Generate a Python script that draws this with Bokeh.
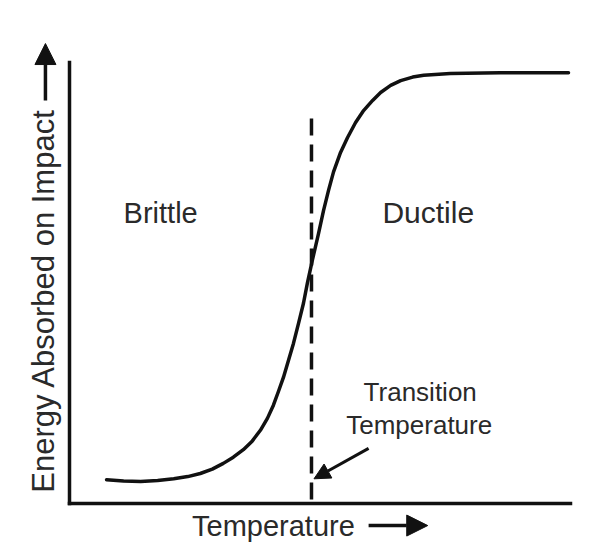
from bokeh.plotting import figure
from bokeh.models import Range1d, Label, Arrow, NormalHead, FixedTicker
from bokeh.embed import file_html
from bokeh.resources import INLINE

# Curve (temperature in arbitrary units 0-100, energy 0-100)
temperature = [7.4, 10.8, 14.2, 17.6, 20.8, 23.6, 26.1, 28.5, 30.7, 32.7, 34.7,
               36.5, 38.1, 39.5, 40.7, 41.7, 42.7, 43.7, 44.7, 45.7, 46.7, 47.5,
               48.5, 49.7, 50.7, 51.7, 52.7, 54.1, 55.5, 57.1, 58.7, 60.5, 62.1,
               64.1, 66.1, 68.5, 70.7, 76.0, 86.0, 99.6]
energy = [5.4, 5.1, 5.0, 5.2, 5.6, 6.1, 6.8, 7.8, 9.1, 10.5, 12.2,
          14.2, 16.6, 19.3, 22.3, 25.4, 28.6, 32.4, 36.3, 40.8, 45.4, 50.1,
          55.3, 61.2, 66.4, 71.0, 75.2, 79.6, 83.0, 86.4, 89.1, 91.4, 93.2,
          94.8, 95.9, 96.7, 97.1, 97.5, 97.7, 97.7]

transition_temp = 48.3
transition_top = 87.3

region_labels = ["Brittle", "Ductile"]
transition_label = ["Transition", "Temperature"]
x_label = "Temperature"
y_label = "Energy Absorbed on Impact"

FONT = "Liberation Sans"
TXT = "#2a2a2a"
INK = "#111111"

p = figure(width=584, height=543, output_backend="svg", toolbar_location=None, title=None,
           x_range=Range1d(-13.77, 102.79), y_range=Range1d(-9.07, 114.06),
           min_border=0)
p.outline_line_color = None
p.grid.visible = False
p.background_fill_color = "white"
p.border_fill_color = "white"
for ax in (p.xaxis, p.yaxis):
    ax.ticker = FixedTicker(ticks=[])
    ax.fixed_location = 0
    ax.bounds = (0, 100)
    ax.axis_line_width = 3.5
    ax.axis_line_color = INK
    ax.major_tick_line_color = None
    ax.minor_tick_line_color = None
    ax.major_tick_out = 0
    ax.major_tick_in = 0
    ax.major_label_text_font_size = "0px"
    ax.axis_line_cap = "square"

# main curve
p.line(temperature, energy, line_width=3.5, line_color=INK, line_join="round", line_cap="round")

# dashed transition line
p.line([transition_temp, transition_temp], [transition_top, 0], line_width=3.5,
       line_color=INK, line_dash="17 9")

def lab(x, y, text, size, angle=0, align="center"):
    p.add_layout(Label(x=x, y=y, text=text, text_font=FONT, text_font_size=size,
                       text_color=TXT, text_align=align, text_baseline="alphabetic",
                       angle=angle))

lab(18.2, 65.8, region_labels[0], "29px")
lab(71.6, 66.0, region_labels[1], "30px")
lab(70.0, 25.2, transition_label[0], "26px")
lab(69.8, 17.9, transition_label[1], "26px")
lab(40.7, -5.0, x_label, "29px")
lab(-5.2, 46.0, y_label, "31px", angle=1.5707963)

# arrows
p.add_layout(Arrow(end=NormalHead(size=16, fill_color=INK, line_color=INK),
                   x_start=59.7, y_start=12.5, x_end=48.8, y_end=5.6,
                   line_width=3, line_color=INK))
p.add_layout(Arrow(end=NormalHead(size=21, fill_color=INK, line_color=INK),
                   x_start=59.7, y_start=-5.0, x_end=71.5, y_end=-5.0,
                   line_width=3.5, line_color=INK))
p.add_layout(Arrow(end=NormalHead(size=21, fill_color=INK, line_color=INK),
                   x_start=-4.8, y_start=91.4, x_end=-4.8, y_end=104.3,
                   line_width=3.5, line_color=INK))

open("out.html", "w").write(file_html(p, INLINE))
